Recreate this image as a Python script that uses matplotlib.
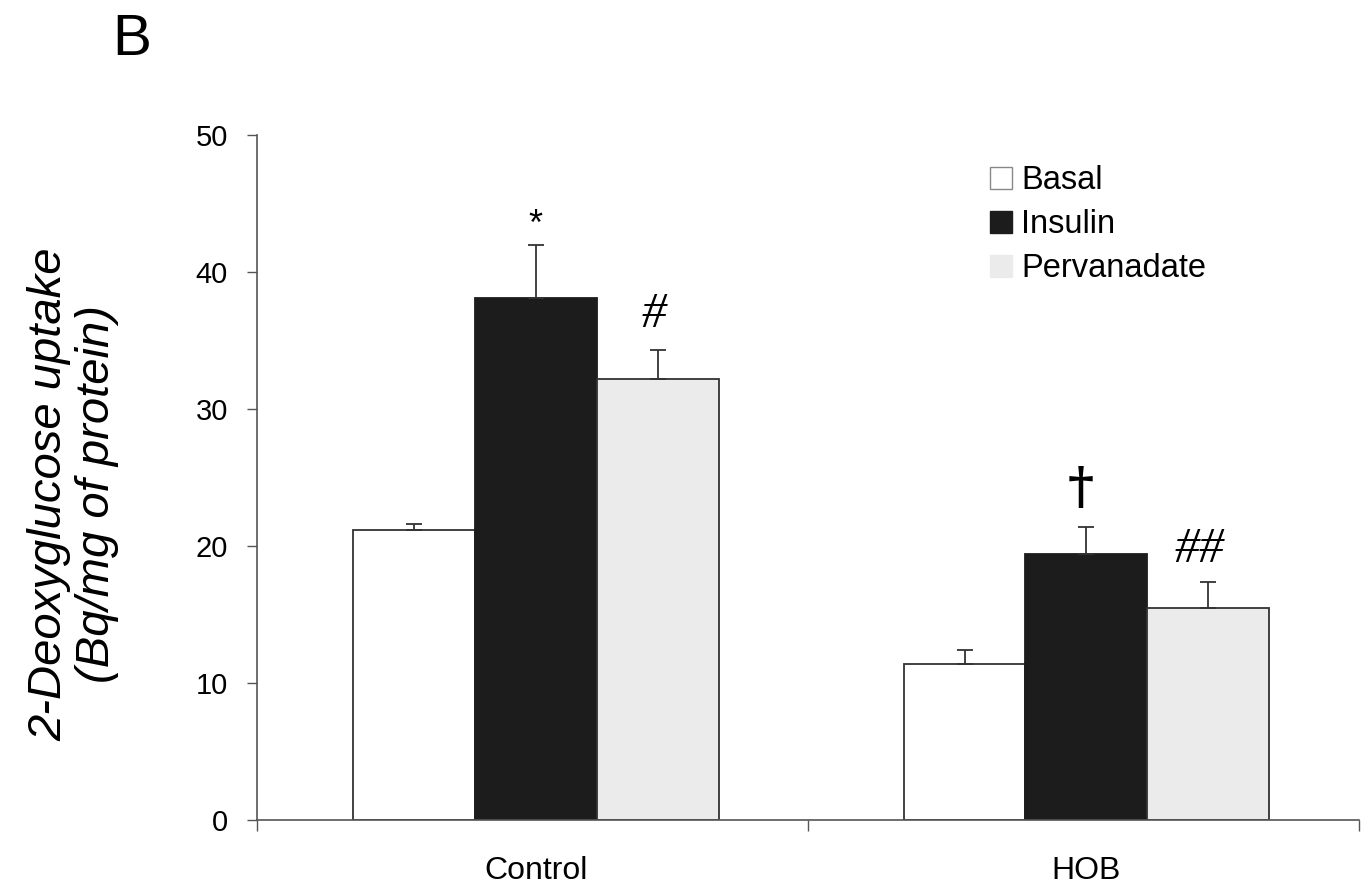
import numpy as np
import matplotlib.pyplot as plt
from matplotlib.patches import Patch

groups = ['Control', 'HOB']
series = ['Basal', 'Insulin', 'Pervanadate']
means = {
    'Basal': [21.2, 11.4],
    'Insulin': [38.1, 19.4],
    'Pervanadate': [32.2, 15.5],
}
errs = {
    'Basal': [0.4, 1.0],
    'Insulin': [3.9, 2.0],
    'Pervanadate': [2.1, 1.9],
}
marks = {
    'Insulin': ['*', '\u2020'],
    'Pervanadate': ['#', '##'],
}

faces = {'Basal': 'white', 'Insulin': '#1c1c1c', 'Pervanadate': '#ebebeb'}
edges = {'Basal': '#333333', 'Insulin': '#1c1c1c', 'Pervanadate': '#333333'}

plt.rcParams['font.family'] = ['Liberation Sans', 'DejaVu Sans']

fig = plt.figure(figsize=(13.63, 8.88), dpi=100)
ax = fig.add_axes([0.1886, 0.0766, 0.8085, 0.7714])

centers = np.array([0.506, 1.505])
w = 0.221
for i, s in enumerate(series):
    x = centers + (i - 1) * w
    ax.bar(x, means[s], width=w, color=faces[s], edgecolor=edges[s], linewidth=1.3, zorder=2)
    ax.errorbar(x, means[s], yerr=[np.zeros(2), errs[s]], fmt='none', ecolor='#333333',
                elinewidth=1.3, capsize=6, capthick=1.3, zorder=3)
    if s in marks:
        for j in range(2):
            top = means[s][j] + errs[s][j]
            m = marks[s][j]
            if m == '*':
                ax.text(x[j], top + 0.1, m, ha='center', va='bottom', fontsize=26)
            elif m == '\u2020':
                ax.text(x[j] - 0.01, top + 0.9, m, ha='center', va='bottom', fontsize=36,
                        family='DejaVu Serif', fontweight='bold')
            elif m == '#':
                ax.text(x[j] - 0.006, top + 0.9, m, ha='center', va='bottom', fontsize=36,
                        family='Liberation Serif', style='italic')
            else:
                ax.text(x[j] - 0.015, top + 0.6, m, ha='center', va='bottom', fontsize=36,
                        family='Liberation Serif', style='italic')

ax.set_xlim(0, 2)
ax.set_ylim(0, 50)
ax.set_yticks([0, 10, 20, 30, 40, 50])
ax.tick_params(axis='y', labelsize=21, length=7, width=1, color='#555555', pad=14)
ax.set_xticks([0, 1, 2])
ax.set_xticklabels(['', '', ''])
ax.set_xticks(centers, minor=True)
ax.set_xticklabels(groups, minor=True, fontsize=23)
ax.tick_params(axis='x', which='major', length=8, width=1, color='#555555')
ax.tick_params(axis='x', which='minor', length=0, pad=26)
for side in ['top', 'right']:
    ax.spines[side].set_visible(False)
for side in ['left', 'bottom']:
    ax.spines[side].set_color('#555555')
    ax.spines[side].set_linewidth(1.2)

ax.set_ylabel('2-Deoxyglucose uptake\n(Bq/mg of protein)', fontsize=34, style='italic',
              linespacing=1.12)
ax.yaxis.set_label_coords(-0.125, 0.476)

handles = [Patch(facecolor=faces[s], edgecolor=('#888888' if s == 'Basal' else faces[s]), label=s)
           for s in series]
fig.legend(handles=handles, loc='upper left', bbox_to_anchor=(0.705, 0.847), frameon=False,
           fontsize=23.5, handlelength=0.65, handleheight=0.65, handletextpad=0.3, labelspacing=0.4)

fig.text(0.082, 0.955, 'B', fontsize=42, ha='left', va='center')

fig.savefig('out.png', dpi=100, facecolor='white')
